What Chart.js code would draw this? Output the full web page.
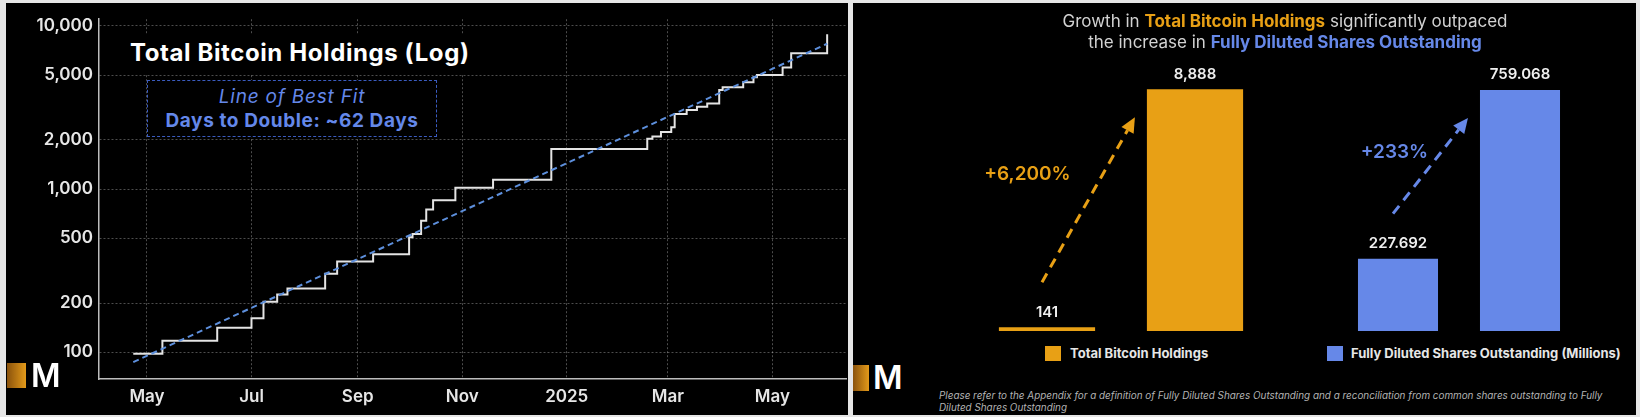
<!DOCTYPE html>
<html>
<head>
<meta charset="utf-8">
<script src="https://cdn.jsdelivr.net/npm/chart.js@4.4.1/dist/chart.umd.min.js"></script>
<style>
  html, body { margin: 0; padding: 0; }
  body { width: 1640px; height: 417px; background: #e6e6e6; position: relative; overflow: hidden; font-family: Inter, "DejaVu Sans", sans-serif; }
  .abs { position: absolute; }
  .panel { position: absolute; background: #000; }
  #leftPanel { left: 6px; top: 3px; width: 842px; height: 412px; }
  #rightPanel { left: 853px; top: 3px; width: 783px; height: 412px; }
  .wrap { position: absolute; }
  #leftWrap { left: 6px; top: 3px; width: 842px; height: 412px; }
  #btcWrap { left: 960px; top: 50px; width: 320px; height: 290px; }
  #sharesWrap { left: 1320px; top: 50px; width: 280px; height: 290px; }
  #leftTitle { left: 120px; top: 35px; width: 375px; height: 40px; background: #000; color: #fff; font-weight: 700; font-size: 24px; letter-spacing: 0.6px; line-height: 36px; padding-left: 10px; box-sizing: border-box; }
  #fitBox { left: 147px; top: 80px; width: 290px; height: 57px; border: 1.5px dashed #3b5cc0; background: #000; box-sizing: border-box; text-align: center; color: #6488ea; }
  #fitBox .l1 { font-style: italic; font-size: 19px; letter-spacing: 0.8px; line-height: 22px; margin-top: 5px; }
  #fitBox .l2 { font-weight: 700; font-size: 19px; letter-spacing: 0.6px; line-height: 22px; margin-top: 2px; }
  #rightTitle { left: 985px; top: 11px; width: 600px; text-align: center; font-size: 17px; line-height: 21px; color: #d2d2d2; }
  .org { color: #e8a015; font-weight: 700; }
  .blu { color: #6688e8; font-weight: 700; }
  .sw { position: absolute; width: 16px; height: 15px; }
  .lg { position: absolute; font-size: 13px; font-weight: 700; color: #e6e6e6; line-height: 16px; }
  #note { left: 939px; top: 389px; width: 700px; font-size: 9.9px; font-style: italic; line-height: 12px; color: #b4b4b4; }
  .logoBox { position: absolute; background: linear-gradient(90deg, #8a520c, #e39a1a); }
  .logoM { position: absolute; color: #fff; font-weight: 600; font-size: 32px; line-height: 28px; }
</style>
</head>
<body>
<div class="panel" id="leftPanel"></div>
<div class="panel" id="rightPanel"></div>

<div class="wrap" id="leftWrap"><canvas id="holdingsChart"></canvas></div>
<div class="wrap" id="btcWrap"><canvas id="btcChart"></canvas></div>
<div class="wrap" id="sharesWrap"><canvas id="sharesChart"></canvas></div>

<div class="abs" id="leftTitle">Total Bitcoin Holdings (Log)</div>
<div class="abs" id="fitBox">
  <div class="l1">Line of Best Fit</div>
  <div class="l2">Days to Double: ~62 Days</div>
</div>

<div class="abs" id="rightTitle">Growth in <span class="org">Total Bitcoin Holdings</span> significantly outpaced<br>the increase in <span class="blu">Fully Diluted Shares Outstanding</span></div>

<div class="sw" style="left:1045px; top:346px; background:#e8a015;"></div>
<div class="lg" style="left:1070px; top:345px;">Total Bitcoin Holdings</div>
<div class="sw" style="left:1327px; top:346px; background:#6688e8;"></div>
<div class="lg" style="left:1351px; top:345px;">Fully Diluted Shares Outstanding (Millions)</div>

<div class="abs" id="note">Please refer to the Appendix for a definition of Fully Diluted Shares Outstanding and a reconciliation from common shares outstanding to Fully<br>Diluted Shares Outstanding</div>

<div class="logoBox" style="left:7px; top:363px; width:19px; height:25px;"></div>
<div class="logoM" style="left:31px; top:362px;">M</div>
<div class="logoBox" style="left:853px; top:365px; width:16px; height:26px;"></div>
<div class="logoM" style="left:873px; top:364px;">M</div>

<script>
// total bitcoin holdings, step line
const holdingDates = [
  "2024-04-23", "2024-05-10", "2024-06-11", "2024-07-01", "2024-07-08", "2024-07-16",
  "2024-07-22", "2024-08-13", "2024-08-20", "2024-09-10", "2024-10-01", "2024-10-03",
  "2024-10-08", "2024-10-11", "2024-10-15", "2024-10-28", "2024-11-19", "2024-12-23",
  "2025-02-17", "2025-02-20", "2025-02-25", "2025-03-03", "2025-03-05", "2025-03-12",
  "2025-03-18", "2025-03-24", "2025-03-31", "2025-04-02", "2025-04-14", "2025-04-20",
  "2025-04-22", "2025-05-07", "2025-05-12", "2025-06-02",
];
const holdingsBtc = [
  97.85, 117.72, 141.07, 161.27, 203.73, 225.61,
  245.99, 303.1, 360.37, 398.83, 506.75, 530.72,
  639.5, 748.5, 855.48, 1018.17, 1142.29, 1761.98,
  2031.41, 2100, 2235, 2391, 2888, 3050,
  3200, 3350, 4046, 4206, 4525, 4855,
  5000, 5555, 6796, 8888,
];

// line of best fit (log)
const fitDates = ["2024-04-23", "2025-06-02"];
const fitValues = [87, 7780];

// axes
const xTickDates = ["2024-05-01", "2024-07-01", "2024-09-01", "2024-11-01", "2025-01-01", "2025-03-01", "2025-05-01"];
const xTickLabels = ["May", "Jul", "Sep", "Nov", "2025", "Mar", "May"];
const xRange = ["2024-04-03", "2025-06-13"];
const yTicks = [100, 200, 500, 1000, 2000, 5000, 10000];
const yRange = [68.5, 11000];

// bar comparison
const barLabels = ["Start", "Latest"];
const btcBars = [141, 8888];
const sharesBars = [227.692, 759.068];
const growthLabels = ["+6,200%", "+233%"];

const ORANGE = "#e8a015";
const BLUE = "#6688e8";

const originMs = Date.UTC(2024, 4, 1);
function toDay(s) {
  const [y, m, d] = s.split("-").map(Number);
  return (Date.UTC(y, m - 1, d) - originMs) / 86400000;
}

const holdingPoints = holdingDates.map((d, i) => ({ x: toDay(d), y: holdingsBtc[i] }));
const fitPoints = fitDates.map((d, i) => ({ x: toDay(d), y: fitValues[i] }));

const tickFont = { family: "Inter", size: 17, weight: "600" };

new Chart(document.getElementById("holdingsChart"), {
  type: "line",
  data: {
    datasets: [
      {
        label: "Total Bitcoin Holdings",
        data: holdingPoints,
        stepped: "before",
        borderColor: "#e4e4e4",
        borderWidth: 2,
        pointRadius: 0,
        order: 2,
      },
      {
        label: "Line of Best Fit",
        data: fitPoints,
        borderColor: "#5d8fdc",
        borderWidth: 2,
        borderDash: [6, 4],
        pointRadius: 0,
        order: 1,
      },
    ],
  },
  options: {
    responsive: true,
    maintainAspectRatio: false,
    animation: false,
    layout: { padding: { left: 0, right: 2, top: 13, bottom: 0 } },
    plugins: { legend: { display: false }, tooltip: { enabled: false } },
    scales: {
      x: {
        type: "linear",
        min: toDay(xRange[0]),
        max: toDay(xRange[1]),
        afterBuildTicks: (s) => { s.ticks = xTickDates.map((d) => ({ value: toDay(d) })); },
        afterFit: (s) => { s.height = 36; },
        ticks: {
          color: "#e6e6e6",
          font: tickFont,
          padding: 8,
          maxRotation: 0,
          autoSkip: false,
          callback: (v, i) => xTickLabels[i],
        },
        grid: { color: "rgba(255,255,255,0.3)", drawTicks: false },
        border: { color: "#bdbdbd", width: 1.5, dash: [2, 2] },
      },
      y: {
        type: "logarithmic",
        min: yRange[0],
        max: yRange[1],
        afterBuildTicks: (s) => { s.ticks = yTicks.map((v) => ({ value: v })); },
        afterFit: (s) => { s.width = 93; },
        ticks: {
          color: "#e6e6e6",
          font: tickFont,
          padding: 6,
          callback: (v) => Number(v).toLocaleString("en-US"),
        },
        grid: { color: "rgba(255,255,255,0.3)", drawTicks: false },
        border: { color: "#bdbdbd", width: 1.5, dash: [2, 2] },
      },
    },
  },
});

// value labels, dashed growth arrow and growth text on the bar charts
const growthPlugin = {
  id: "growth",
  afterDatasetsDraw(chart, args, opts) {
    const ctx = chart.ctx;
    const bars = chart.getDatasetMeta(0).data;
    const values = chart.data.datasets[0].data;
    ctx.save();
    ctx.fillStyle = "#efefef";
    ctx.font = "600 15px Inter";
    ctx.textAlign = "center";
    ctx.textBaseline = "middle";
    bars.forEach((bar, i) => ctx.fillText(opts.format(values[i]), bar.x, bar.y - 15));

    const small = bars[0];
    const big = bars[1];
    const sx = small.x - 5, sy = small.y - 45;
    const ex = big.x - big.width / 2 - 12, ey = big.y + 28;
    const ang = Math.atan2(ey - sy, ex - sx);
    const head = 15;
    const bx = ex - head * Math.cos(ang), by = ey - head * Math.sin(ang);
    ctx.strokeStyle = opts.color;
    ctx.lineWidth = 3;
    ctx.setLineDash([10, 7]);
    ctx.beginPath();
    ctx.moveTo(sx, sy);
    ctx.lineTo(bx, by);
    ctx.stroke();
    ctx.setLineDash([]);
    ctx.fillStyle = opts.color;
    ctx.beginPath();
    ctx.moveTo(ex, ey);
    ctx.lineTo(bx + 7 * Math.sin(ang), by - 7 * Math.cos(ang));
    ctx.lineTo(bx - 7 * Math.sin(ang), by + 7 * Math.cos(ang));
    ctx.closePath();
    ctx.fill();

    ctx.font = "600 19px Inter";
    ctx.fillText(opts.text, (sx + ex) / 2 + opts.dx, (sy + ey) / 2 + opts.dy);
    ctx.restore();
  },
};

function barChart(id, values, color, pct, padding, max, growth) {
  return new Chart(document.getElementById(id), {
    type: "bar",
    data: {
      labels: barLabels,
      datasets: [{ data: values, backgroundColor: color, barPercentage: pct, categoryPercentage: 1 }],
    },
    options: {
      responsive: true,
      maintainAspectRatio: false,
      animation: false,
      layout: { padding: padding },
      plugins: { legend: { display: false }, tooltip: { enabled: false }, growth: growth },
      scales: {
        x: { display: false },
        y: { display: false, min: 0, max: max },
      },
    },
    plugins: [growthPlugin],
  });
}

barChart("btcChart", btcBars, ORANGE, 0.65, { left: 13, right: 11, top: 9, bottom: 9 }, 10000, {
  color: ORANGE, text: growthLabels[0], dx: -61, dy: -25,
  format: (v) => v.toLocaleString("en-US"),
});
barChart("sharesChart", sharesBars, BLUE, 0.656, { left: 17, right: 19, top: 11, bottom: 9 }, 850, {
  color: BLUE, text: growthLabels[1], dx: -36, dy: -13,
  format: (v) => v.toFixed(3),
});
</script>
</body>
</html>
